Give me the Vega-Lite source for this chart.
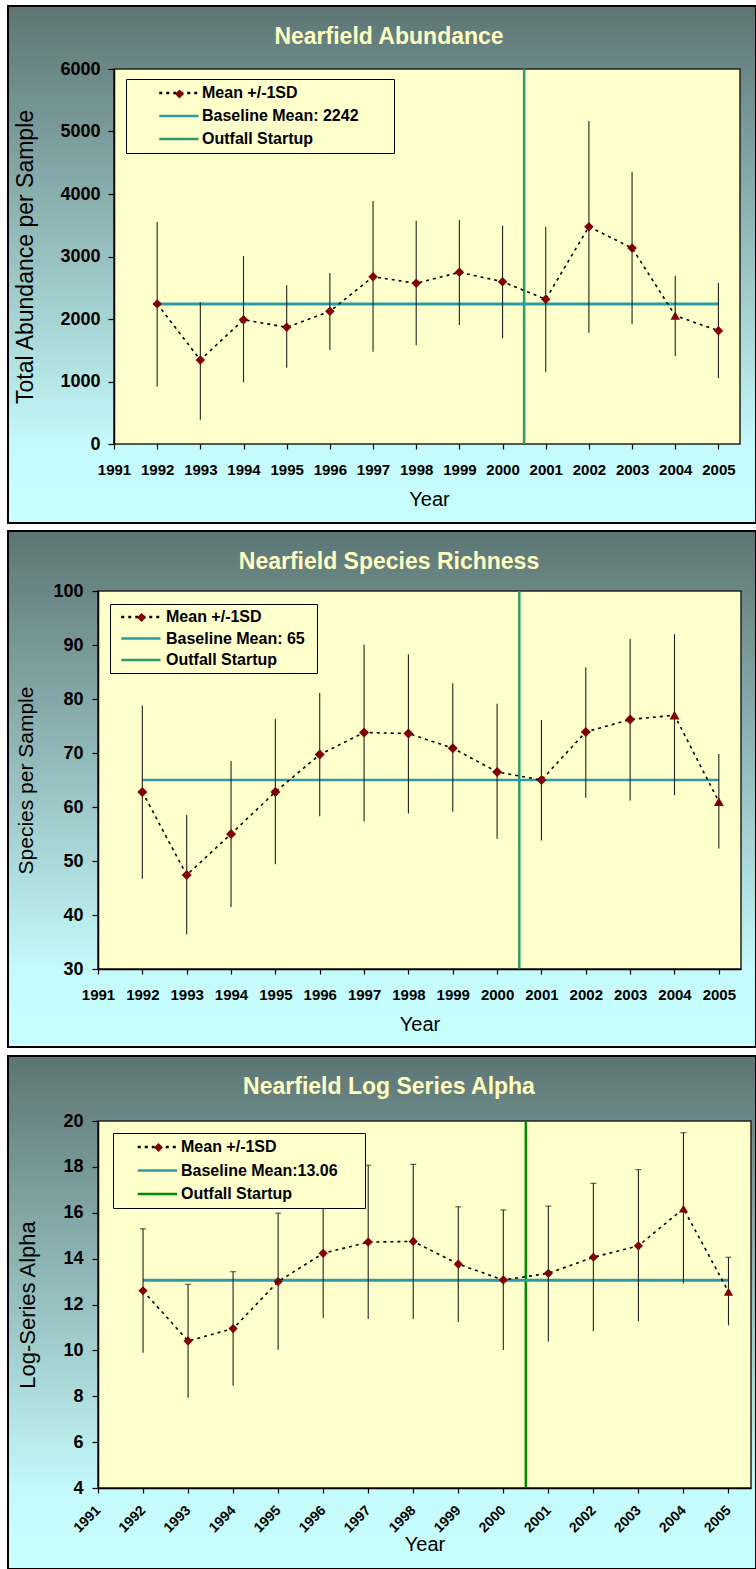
{
  "$schema": "https://vega.github.io/schema/vega-lite/v6.json",
  "padding": {"left": 6, "top": 5, "right": 0, "bottom": 0},
  "background": "#ffffff",
  "columns": 1,
  "align": "none",
  "spacing": 6,
  "resolve": {"scale": {"color": "independent", "strokeDash": "independent", "shape": "independent"}},
  "datasets": {
    "abundance": [
      {"year": 1992, "mean": 2242, "lo": 917, "hi": 3552, "flagged": "no"},
      {"year": 1993, "mean": 1344, "lo": 389, "hi": 2267, "flagged": "no"},
      {"year": 1994, "mean": 1989, "lo": 987, "hi": 3008, "flagged": "no"},
      {"year": 1995, "mean": 1867, "lo": 1221, "hi": 2544, "flagged": "no"},
      {"year": 1996, "mean": 2123, "lo": 1504, "hi": 2736, "flagged": "no"},
      {"year": 1997, "mean": 2677, "lo": 1477, "hi": 3888, "flagged": "no"},
      {"year": 1998, "mean": 2571, "lo": 1579, "hi": 3573, "flagged": "no"},
      {"year": 1999, "mean": 2747, "lo": 1904, "hi": 3584, "flagged": "no"},
      {"year": 2000, "mean": 2597, "lo": 1691, "hi": 3493, "flagged": "no"},
      {"year": 2001, "mean": 2315, "lo": 1152, "hi": 3477, "flagged": "no"},
      {"year": 2002, "mean": 3477, "lo": 1781, "hi": 5168, "flagged": "no"},
      {"year": 2003, "mean": 3136, "lo": 1920, "hi": 4352, "flagged": "no"},
      {"year": 2004, "mean": 2053, "lo": 1408, "hi": 2693, "flagged": "yes"},
      {"year": 2005, "mean": 1813, "lo": 1056, "hi": 2576, "flagged": "no"}
    ],
    "richness": [
      {"year": 1992, "mean": 62.8, "lo": 46.7, "hi": 78.8, "flagged": "no"},
      {"year": 1993, "mean": 47.4, "lo": 36.4, "hi": 58.5, "flagged": "no"},
      {"year": 1994, "mean": 55.0, "lo": 41.5, "hi": 68.5, "flagged": "no"},
      {"year": 1995, "mean": 62.8, "lo": 49.4, "hi": 76.3, "flagged": "no"},
      {"year": 1996, "mean": 69.7, "lo": 58.3, "hi": 81.1, "flagged": "no"},
      {"year": 1997, "mean": 73.8, "lo": 57.3, "hi": 90.1, "flagged": "no"},
      {"year": 1998, "mean": 73.6, "lo": 58.8, "hi": 88.3, "flagged": "no"},
      {"year": 1999, "mean": 70.9, "lo": 59.1, "hi": 82.9, "flagged": "no"},
      {"year": 2000, "mean": 66.5, "lo": 54.1, "hi": 79.1, "flagged": "no"},
      {"year": 2001, "mean": 65.0, "lo": 53.8, "hi": 76.1, "flagged": "no"},
      {"year": 2002, "mean": 73.9, "lo": 61.7, "hi": 85.9, "flagged": "no"},
      {"year": 2003, "mean": 76.2, "lo": 61.2, "hi": 91.1, "flagged": "no"},
      {"year": 2004, "mean": 77.0, "lo": 62.2, "hi": 92.0, "flagged": "yes"},
      {"year": 2005, "mean": 61.0, "lo": 52.3, "hi": 69.8, "flagged": "yes"}
    ],
    "alpha": [
      {"year": 1992, "mean": 12.6, "lo": 9.9, "hi": 15.3, "flagged": "no"},
      {"year": 1993, "mean": 10.41, "lo": 7.94, "hi": 12.88, "flagged": "no"},
      {"year": 1994, "mean": 10.95, "lo": 8.46, "hi": 13.43, "flagged": "no"},
      {"year": 1995, "mean": 13.0, "lo": 10.03, "hi": 15.98, "flagged": "no"},
      {"year": 1996, "mean": 14.23, "lo": 11.41, "hi": 17.05, "flagged": "no"},
      {"year": 1997, "mean": 14.72, "lo": 11.37, "hi": 18.07, "flagged": "no"},
      {"year": 1998, "mean": 14.75, "lo": 11.37, "hi": 18.11, "flagged": "no"},
      {"year": 1999, "mean": 13.76, "lo": 11.24, "hi": 16.26, "flagged": "no"},
      {"year": 2000, "mean": 13.07, "lo": 10.02, "hi": 16.12, "flagged": "no"},
      {"year": 2001, "mean": 13.36, "lo": 10.39, "hi": 16.29, "flagged": "no"},
      {"year": 2002, "mean": 14.06, "lo": 10.83, "hi": 17.28, "flagged": "no"},
      {"year": 2003, "mean": 14.56, "lo": 11.27, "hi": 17.88, "flagged": "no"},
      {"year": 2004, "mean": 16.18, "lo": 12.92, "hi": 19.49, "flagged": "yes"},
      {"year": 2005, "mean": 12.56, "lo": 11.09, "hi": 14.06, "flagged": "yes"}
    ]
  },
  "concat": [
    {
      "width": 642,
      "height": 375,
      "title": {"text": "Nearfield Abundance", "frame": "bounds", "anchor": "middle", "dx": 7, "offset": -44, "font": "Liberation Sans", "fontSize": 23, "fontWeight": "bold", "color": "#ffffc0", "zindex": 1},
      "layer": [
        {
          "data": {"values": [{}]},
          "mark": {"type": "rect", "stroke": "#000000", "strokeWidth": 2,
            "fill": {"gradient": "linear", "x1": 0, "y1": 0, "x2": 0, "y2": 1, "stops": [{"offset": 0, "color": "#5c7574"}, {"offset": 0.85, "color": "#c4fafa"}, {"offset": 1, "color": "#c8ffff"}]}},
          "encoding": {
            "x": {"datum": 1988.5447, "type": "quantitative", "scale": {"domain": [1990.6294, 2005.5], "nice": false, "zero": false}},
            "x2": {"datum": 2005.8708},
            "y": {"datum": 7008, "type": "quantitative", "scale": {"domain": [0, 6000], "nice": false, "zero": false}},
            "y2": {"datum": -1264}
          }
        },
        {
          "data": {"values": [{}]},
          "mark": {"type": "rect", "fill": "#ffffcc", "stroke": "#222222", "strokeWidth": 1.5},
          "encoding": {
            "x": {"datum": 1991, "type": "quantitative"}, "x2": {"datum": 2005.5},
            "y": {"datum": 0, "type": "quantitative"}, "y2": {"datum": 6000}
          }
        },
        {
          "data": {"values": [{}]},
          "mark": {"type": "rule", "strokeWidth": 2.5},
          "encoding": {
            "x": {"datum": 2000.5, "type": "quantitative"},
            "color": {"datum": "Outfall Startup", "type": "nominal"},
            "strokeDash": {"datum": "Outfall Startup", "type": "nominal"}
          }
        },
        {
          "data": {"values": [{}]},
          "mark": {"type": "rule", "strokeWidth": 3},
          "encoding": {
            "x": {"datum": 1992, "type": "quantitative"}, "x2": {"datum": 2005},
            "y": {"datum": 2242, "type": "quantitative"},
            "color": {"datum": "Baseline Mean: 2242", "type": "nominal",
              "scale": {"domain": ["Mean +/-1SD", "Baseline Mean: 2242", "Outfall Startup"], "range": ["#000000", "#2e9aa6", "#2f9a6c"]},
              "legend": {"title": "\u00a0", "titleOrient": "right", "titlePadding": 29, "titleFontSize": 16, "orient": "none", "legendX": 28, "legendY": 10, "padding": 6, "rowPadding": 7, "symbolOffset": 39, "labelOffset": 15, "symbolType": "M-3.95,0H3.9", "symbolStrokeWidth": 2.5}},
            "strokeDash": {"datum": "Baseline Mean: 2242", "type": "nominal",
              "scale": {"domain": ["Mean +/-1SD", "Baseline Mean: 2242", "Outfall Startup"], "range": [[3, 4], [1, 0], [1, 0]]},
              "legend": {"title": "\u00a0", "titleOrient": "right", "titlePadding": 29, "titleFontSize": 16, "orient": "none", "legendX": 28, "legendY": 10, "padding": 6, "rowPadding": 7, "symbolOffset": 39, "labelOffset": 15, "symbolType": "M-3.95,0H3.9", "symbolStrokeWidth": 2.5}}
          }
        },
        {
          "data": {"name": "abundance"},
          "mark": {"type": "rule", "color": "#222222", "strokeWidth": 1.1},
          "encoding": {
            "x": {"field": "year", "type": "quantitative",
              "axis": {"title": "Year", "values": [1991, 1992, 1993, 1994, 1995, 1996, 1997, 1998, 1999, 2000, 2001, 2002, 2003, 2004, 2005], "format": "d", "domain": false, "titlePadding": 12, "titleX": 331, "zindex": 1}},
            "y": {"field": "lo", "type": "quantitative",
              "axis": {"title": "Total Abundance per Sample", "values": [0, 1000, 2000, 3000, 4000, 5000, 6000], "format": "d", "offset": -16, "titlePadding": 22, "titleFontSize": 23, "zindex": 1}},
            "y2": {"field": "hi"}
          }
        },
        {
          "data": {"name": "abundance"},
          "mark": {"type": "line", "strokeWidth": 1.6},
          "encoding": {
            "x": {"field": "year", "type": "quantitative"},
            "y": {"field": "mean", "type": "quantitative"},
            "color": {"datum": "Mean +/-1SD", "type": "nominal"},
            "strokeDash": {"datum": "Mean +/-1SD", "type": "nominal"}
          }
        },
        {
          "data": {"name": "abundance"},
          "mark": {"type": "point", "filled": true, "color": "#800000", "opacity": 1, "size": 90},
          "encoding": {
            "x": {"field": "year", "type": "quantitative"},
            "y": {"field": "mean", "type": "quantitative"},
            "shape": {"field": "flagged", "type": "nominal", "scale": {"domain": ["no", "yes"], "range": ["diamond", "triangle-up"]},
              "legend": {"title": null, "orient": "none", "legendX": 76, "legendY": 19.5, "values": ["no"], "padding": 0, "fillColor": "transparent", "strokeColor": "transparent", "labelExpr": "''", "labelFontSize": 8, "symbolOffset": 0, "symbolSize": 80, "zindex": 2}}
          }
        }
      ]
    },
    {
      "width": 643,
      "height": 378,
      "title": {"text": "Nearfield Species Richness", "frame": "bounds", "anchor": "middle", "dx": 7, "offset": -44, "font": "Liberation Sans", "fontSize": 23, "fontWeight": "bold", "color": "#ffffc0", "zindex": 1},
      "layer": [
        {
          "data": {"values": [{}]},
          "mark": {"type": "rect", "stroke": "#000000", "strokeWidth": 2,
            "fill": {"gradient": "linear", "x1": 0, "y1": 0, "x2": 0, "y2": 1, "stops": [{"offset": 0, "color": "#5c7574"}, {"offset": 0.85, "color": "#c4fafa"}, {"offset": 1, "color": "#c8ffff"}]}},
          "encoding": {
            "x": {"datum": 1988.9705, "type": "quantitative", "scale": {"domain": [1991, 2005.5], "nice": false, "zero": false}},
            "x2": {"datum": 2005.838},
            "y": {"datum": 111.111, "type": "quantitative", "scale": {"domain": [30, 100], "nice": false, "zero": false}},
            "y2": {"datum": 15.556}
          }
        },
        {
          "data": {"values": [{}]},
          "mark": {"type": "rect", "fill": "#ffffcc", "stroke": "#222222", "strokeWidth": 1.5},
          "encoding": {
            "x": {"datum": 1991, "type": "quantitative"}, "x2": {"datum": 2005.5},
            "y": {"datum": 30, "type": "quantitative"}, "y2": {"datum": 100}
          }
        },
        {
          "data": {"values": [{}]},
          "mark": {"type": "rule", "strokeWidth": 2.5},
          "encoding": {
            "x": {"datum": 2000.5, "type": "quantitative"},
            "color": {"datum": "Outfall Startup", "type": "nominal"},
            "strokeDash": {"datum": "Outfall Startup", "type": "nominal"}
          }
        },
        {
          "data": {"values": [{}]},
          "mark": {"type": "rule", "strokeWidth": 2.5},
          "encoding": {
            "x": {"datum": 1992, "type": "quantitative"}, "x2": {"datum": 2005},
            "y": {"datum": 65, "type": "quantitative"},
            "color": {"datum": "Baseline Mean: 65", "type": "nominal",
              "scale": {"domain": ["Mean +/-1SD", "Baseline Mean: 65", "Outfall Startup"], "range": ["#000000", "#2e9aa6", "#2f9a6c"]},
              "legend": {"title": "\u00a0", "titleOrient": "right", "titlePadding": 7, "titleFontSize": 16, "orient": "none", "legendX": 12, "legendY": 13, "padding": 5, "rowPadding": 5.5, "symbolOffset": 18, "labelOffset": 17, "symbolType": "M-3.95,0H3.9", "symbolStrokeWidth": 2.5}},
            "strokeDash": {"datum": "Baseline Mean: 65", "type": "nominal",
              "scale": {"domain": ["Mean +/-1SD", "Baseline Mean: 65", "Outfall Startup"], "range": [[3, 4], [1, 0], [1, 0]]},
              "legend": {"title": "\u00a0", "titleOrient": "right", "titlePadding": 7, "titleFontSize": 16, "orient": "none", "legendX": 12, "legendY": 13, "padding": 5, "rowPadding": 5.5, "symbolOffset": 18, "labelOffset": 17, "symbolType": "M-3.95,0H3.9", "symbolStrokeWidth": 2.5}}
          }
        },
        {
          "data": {"name": "richness"},
          "mark": {"type": "rule", "color": "#222222", "strokeWidth": 1.1},
          "encoding": {
            "x": {"field": "year", "type": "quantitative",
              "axis": {"title": "Year", "values": [1991, 1992, 1993, 1994, 1995, 1996, 1997, 1998, 1999, 2000, 2001, 2002, 2003, 2004, 2005], "format": "d", "titlePadding": 12, "zindex": 1}},
            "y": {"field": "lo", "type": "quantitative",
              "axis": {"title": "Species per Sample", "values": [30, 40, 50, 60, 70, 80, 90, 100], "format": "d", "labelPadding": 9, "titlePadding": 16, "titleFontSize": 21, "zindex": 1}},
            "y2": {"field": "hi"}
          }
        },
        {
          "data": {"name": "richness"},
          "mark": {"type": "line", "strokeWidth": 1.6},
          "encoding": {
            "x": {"field": "year", "type": "quantitative"},
            "y": {"field": "mean", "type": "quantitative"},
            "color": {"datum": "Mean +/-1SD", "type": "nominal"},
            "strokeDash": {"datum": "Mean +/-1SD", "type": "nominal"}
          }
        },
        {
          "data": {"name": "richness"},
          "mark": {"type": "point", "filled": true, "color": "#800000", "opacity": 1, "size": 100},
          "encoding": {
            "x": {"field": "year", "type": "quantitative"},
            "y": {"field": "mean", "type": "quantitative"},
            "shape": {"field": "flagged", "type": "nominal", "scale": {"domain": ["no", "yes"], "range": ["diamond", "triangle-up"]},
              "legend": {"title": null, "orient": "none", "legendX": 38, "legendY": 21, "values": ["no"], "padding": 0, "fillColor": "transparent", "strokeColor": "transparent", "labelExpr": "''", "labelFontSize": 8, "symbolOffset": 0, "symbolSize": 80, "zindex": 2}}
          }
        }
      ]
    },
    {
      "width": 653,
      "height": 367,
      "title": {"text": "Nearfield Log Series Alpha", "frame": "bounds", "anchor": "middle", "dx": 7, "offset": -44, "font": "Liberation Sans", "fontSize": 23, "fontWeight": "bold", "color": "#ffffc0", "zindex": 1},
      "layer": [
        {
          "data": {"values": [{}]},
          "mark": {"type": "rect", "stroke": "#000000", "strokeWidth": 2,
            "fill": {"gradient": "linear", "x1": 0, "y1": 0, "x2": 0, "y2": 1, "stops": [{"offset": 0, "color": "#5c7574"}, {"offset": 0.85, "color": "#c4fafa"}, {"offset": 1, "color": "#c8ffff"}]}},
          "encoding": {
            "x": {"datum": 1989.0015, "type": "quantitative", "scale": {"domain": [1991, 2005.5], "nice": false, "zero": false}},
            "x2": {"datum": 2005.611},
            "y": {"datum": 22.834, "type": "quantitative", "scale": {"domain": [4, 20], "nice": false, "zero": false}},
            "y2": {"datum": 0.469}
          }
        },
        {
          "data": {"values": [{}]},
          "mark": {"type": "rect", "fill": "#ffffcc", "stroke": "#222222", "strokeWidth": 1.5},
          "encoding": {
            "x": {"datum": 1991, "type": "quantitative"}, "x2": {"datum": 2005.5},
            "y": {"datum": 4, "type": "quantitative"}, "y2": {"datum": 20}
          }
        },
        {
          "data": {"values": [{}]},
          "mark": {"type": "rule", "strokeWidth": 2.5},
          "encoding": {
            "x": {"datum": 2000.5, "type": "quantitative"},
            "color": {"datum": "Outfall Startup", "type": "nominal"},
            "strokeDash": {"datum": "Outfall Startup", "type": "nominal"}
          }
        },
        {
          "data": {"values": [{}]},
          "mark": {"type": "rule", "strokeWidth": 3},
          "encoding": {
            "x": {"datum": 1992, "type": "quantitative"}, "x2": {"datum": 2005},
            "y": {"datum": 13.06, "type": "quantitative"},
            "color": {"datum": "Baseline Mean:13.06", "type": "nominal",
              "scale": {"domain": ["Mean +/-1SD", "Baseline Mean:13.06", "Outfall Startup"], "range": ["#000000", "#2e9aa6", "#008a00"]},
              "legend": {"title": "\u00a0", "titleOrient": "right", "titlePadding": 21, "titleFontSize": 16, "orient": "none", "legendX": 15, "legendY": 12, "padding": 6, "rowPadding": 7.5, "symbolOffset": 30.5, "labelOffset": 15.5, "symbolType": "M-3.95,0H3.9", "symbolStrokeWidth": 2.5}},
            "strokeDash": {"datum": "Baseline Mean:13.06", "type": "nominal",
              "scale": {"domain": ["Mean +/-1SD", "Baseline Mean:13.06", "Outfall Startup"], "range": [[3, 4], [1, 0], [1, 0]]},
              "legend": {"title": "\u00a0", "titleOrient": "right", "titlePadding": 21, "titleFontSize": 16, "orient": "none", "legendX": 15, "legendY": 12, "padding": 6, "rowPadding": 7.5, "symbolOffset": 30.5, "labelOffset": 15.5, "symbolType": "M-3.95,0H3.9", "symbolStrokeWidth": 2.5}}
          }
        },
        {
          "data": {"name": "alpha"},
          "mark": {"type": "rule", "color": "#222222", "strokeWidth": 1.1},
          "encoding": {
            "x": {"field": "year", "type": "quantitative",
              "axis": {"title": "Year", "values": [1991, 1992, 1993, 1994, 1995, 1996, 1997, 1998, 1999, 2000, 2001, 2002, 2003, 2004, 2005], "format": "d", "labelAngle": -45, "labelAlign": "right", "labelBaseline": "middle", "labelFontSize": 14, "labelPadding": 15, "titlePadding": 0, "zindex": 1}},
            "y": {"field": "lo", "type": "quantitative",
              "axis": {"title": "Log-Series Alpha", "values": [4, 6, 8, 10, 12, 14, 16, 18, 20], "format": "d", "labelPadding": 9, "titlePadding": 23, "titleFontSize": 22, "zindex": 1}},
            "y2": {"field": "hi"}
          }
        },
        {
          "data": {"name": "alpha"},
          "mark": {"type": "tick", "orient": "horizontal", "color": "#222222", "size": 6, "thickness": 1.2},
          "encoding": {
            "x": {"field": "year", "type": "quantitative"},
            "y": {"field": "hi", "type": "quantitative"}
          }
        },
        {
          "data": {"name": "alpha"},
          "mark": {"type": "line", "strokeWidth": 1.6},
          "encoding": {
            "x": {"field": "year", "type": "quantitative"},
            "y": {"field": "mean", "type": "quantitative"},
            "color": {"datum": "Mean +/-1SD", "type": "nominal"},
            "strokeDash": {"datum": "Mean +/-1SD", "type": "nominal"}
          }
        },
        {
          "data": {"name": "alpha"},
          "mark": {"type": "point", "filled": true, "color": "#800000", "opacity": 1, "size": 85},
          "encoding": {
            "x": {"field": "year", "type": "quantitative"},
            "y": {"field": "mean", "type": "quantitative"},
            "shape": {"field": "flagged", "type": "nominal", "scale": {"domain": ["no", "yes"], "range": ["diamond", "triangle-up"]},
              "legend": {"title": null, "orient": "none", "legendX": 55, "legendY": 21, "values": ["no"], "padding": 0, "fillColor": "transparent", "strokeColor": "transparent", "labelExpr": "''", "labelFontSize": 8, "symbolOffset": 0, "symbolSize": 80, "zindex": 2}}
          }
        }
      ]
    }
  ],
  "config": {
    "font": "Liberation Sans",
    "view": {"stroke": null},
    "axis": {
      "grid": false,
      "domainColor": "#000000",
      "domainWidth": 1.5,
      "tickColor": "#000000",
      "tickWidth": 1.2,
      "labelFont": "Liberation Sans",
      "labelFontWeight": "bold",
      "labelColor": "#000000",
      "labelFlush": false,
      "labelOverlap": false,
      "titleFont": "Liberation Sans",
      "titleFontWeight": "normal",
      "titleColor": "#000000"
    },
    "axisX": {"tickSize": 5, "labelFontSize": 15, "labelPadding": 13, "titleFontSize": 20},
    "axisY": {"tickSize": 6, "labelFontSize": 18, "labelPadding": 8, "titleFontSize": 21},
    "legend": {
      "fillColor": "#ffffcc",
      "strokeColor": "#000000",
      "labelFont": "Liberation Sans",
      "labelFontSize": 16,
      "labelFontWeight": "bold",
      "labelColor": "#000000",
      "labelLimit": 400,
      "symbolSize": 100
    }
  }
}
